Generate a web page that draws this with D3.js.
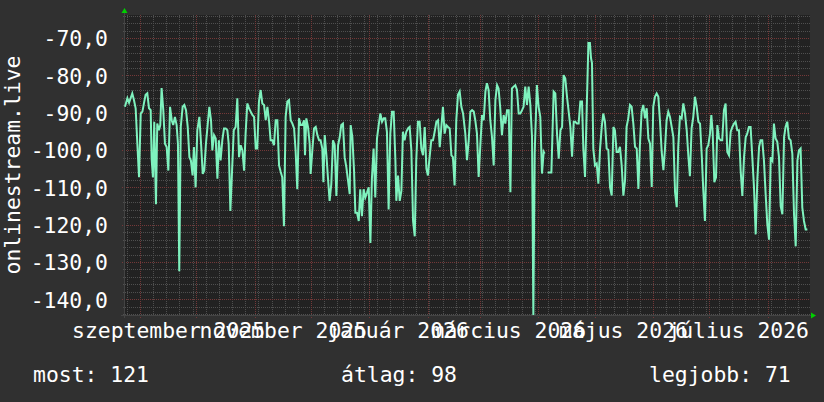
<!DOCTYPE html>
<html><head><meta charset="utf-8">
<script src="https://cdn.jsdelivr.net/npm/d3@7"></script>
<style>
html,body{margin:0;padding:0;background:#303030;}
svg{display:block;}
text{font-family:"DejaVu Sans Mono",monospace;font-size:21.4px;fill:#ffffff;}
</style></head><body>
<svg id="chart" width="824" height="402"></svg>
<script>
// ---- data ----
const seriesName = "onlinestream.live";
const startDate = new Date(2025, 7, 23, 12);
const endDate = new Date(2026, 7, 23, 12);
// days since startDate
const days = [0.5,1.8,2.7,3.5,4.4,5.3,6.2,7.1,8.0,8.9,9.8,10.6,11.5,12.4,13.3,14.2,14.7,15.4,16.1,17.0,17.7,18.6,19.3,20.0,20.9,21.8,22.7,23.6,24.5,25.4,26.2,27.1,28.0,28.7,29.4,30.2,31.2,32.1,33.0,33.9,34.8,35.6,36.5,37.2,38.1,39.0,40.1,41.0,41.9,42.7,43.6,44.5,45.4,46.3,47.0,47.9,48.8,49.7,50.5,51.4,52.3,53.2,54.1,55.0,55.7,56.6,57.5,58.4,
59.4,60.3,61.2,62.1,63.0,63.9,64.7,65.6,66.5,67.4,68.3,69.2,70.1,70.9,71.8,72.7,73.6,74.5,75.4,76.3,77.2,78.0,78.9,79.8,80.7,81.6,82.5,83.4,84.2,85.1,86.0,86.9,87.8,88.7,89.6,90.5,91.3,92.2,93.1,94.0,94.9,95.8,96.3,97.0,97.9,98.8,99.3,100.2,101.1,102.0,102.9,103.8,104.6,105.5,106.1,106.8,107.7,108.5,109.4,110.3,111.2,112.1,113.0,113.9,114.8,115.6,116.5,117.4,118.3,119.2,120.1,
120.6,121.5,122.4,123.1,124.0,124.9,125.7,126.6,127.5,128.4,129.3,130.2,131.1,131.9,132.8,133.7,134.6,135.5,136.4,137.3,138.2,139.0,139.9,140.8,141.7,142.6,143.5,144.4,144.9,145.8,146.7,147.6,148.4,149.3,150.2,151.1,152.0,152.9,153.8,154.7,155.5,156.4,157.3,158.2,159.1,160.0,160.9,161.7,162.6,163.5,164.4,165.3,166.2,167.1,168.0,168.8,169.7,170.6,171.5,172.4,173.3,174.2,175.0,175.9,176.8,177.7,178.6,179.5,180.4,
181.6,182.5,183.4,184.3,185.2,186.1,186.9,187.8,188.7,189.6,190.5,191.4,192.3,193.1,194.0,194.9,195.8,196.7,197.6,198.5,199.3,200.2,201.1,202.0,202.9,203.8,204.7,205.6,206.4,207.3,208.2,209.1,210.0,210.9,211.8,212.6,213.5,214.4,215.3,216.2,217.1,217.8,218.5,219.7,220.6,221.5,222.4,223.3,223.8,224.6,225.4,227.4,228.6,229.5,230.4,231.3,232.2,233.1,233.9,234.8,235.7,236.6,237.5,238.4,239.3,240.1,241.0,
241.9,242.8,243.7,244.4,245.3,246.2,247.1,247.9,248.5,249.0,249.7,250.6,251.5,252.4,253.3,254.2,255.0,255.9,256.8,257.7,258.6,259.5,260.4,261.2,262.1,263.0,263.9,264.8,265.7,266.6,267.4,268.3,269.2,270.1,271.0,271.9,272.8,273.7,274.5,275.4,276.3,277.2,278.1,279.0,279.9,280.8,281.6,282.5,283.4,284.3,285.2,286.1,287.0,287.8,288.7,289.6,290.5,291.4,292.3,293.2,294.1,294.9,295.8,296.7,297.6,298.5,299.4,300.3,301.1,
302.0,302.9,303.8,304.7,305.6,306.5,307.4,308.2,309.1,310.0,310.9,311.8,312.5,313.2,314.1,315.0,315.7,316.6,317.5,318.3,319.2,320.1,321.0,321.9,322.8,323.7,324.6,325.4,326.3,327.2,328.1,329.0,329.9,330.8,331.6,332.5,333.4,334.3,335.2,336.1,337.0,337.9,338.7,339.6,340.5,341.4,342.3,343.2,344.1,345.0,345.8,346.7,347.6,348.5,349.4,350.3,351.2,352.0,352.9,353.8,354.7,355.6,356.5,357.4,358.3,359.1,360.0,360.9,361.8,362.7,363.6];
const values = [-88.4,-86.1,-87.3,-86.1,-84.8,-86.6,-88.8,-98.3,-107.3,-90.2,-89.7,-87.5,-85.2,-84.8,-88.8,-89.3,-102.3,-107.3,-92.4,-114.5,-92.9,-94.7,-93.3,-83.4,-89.3,-98.3,-99.2,-105.5,-88.4,-92,-93.3,-91.1,-93.3,-98.3,-132.5,-93.8,-88.4,-87.9,-89.3,-93.8,-101.9,-102.8,-106.8,-99.2,-110,-94.7,-91.1,-98.3,-106.4,-105.5,-98.3,-93.3,-88.4,-92,-100.1,-96,-96.9,-107.7,-97.4,-102.8,-97.4,-94.2,-94.2,-94.7,-98.3,-116.3,-105.5,-94.7,
-93.8,-86.1,-101.9,-98.7,-100.1,-105.5,-95.6,-87.5,-88.8,-89.7,-90.6,-91.1,-99.6,-99.6,-87,-83.9,-87.5,-87.9,-92,-88.4,-92.4,-97.4,-97.4,-98.7,-92,-92,-104.1,-105.9,-107.3,-120.4,-91.1,-87,-86.6,-92,-92.9,-94.2,-100.1,-110.5,-91.5,-93.3,-93.3,-92,-101.4,-91.5,-93.8,-98.3,-106.4,-100.1,-94.2,-93.8,-96,-97.4,-97.4,-99.6,-108.6,-96,-101.4,-107.3,-113.6,-109.1,-97.4,-98.7,-112.3,-98.7,-96.5,-93.3,-92.9,-101.9,-104.6,-108.2,-111.8,
-93.3,-96.5,-105.5,-116.8,-116.8,-119,-110.5,-117.7,-110.5,-112.7,-111.4,-110,-124.9,-107.7,-99.6,-112.7,-96.9,-93.3,-90.2,-92.4,-91.5,-91.5,-95.1,-115.9,-95.6,-89.7,-89.7,-102.8,-113.6,-106.8,-113.6,-110.9,-95.1,-97.4,-95.1,-94.2,-93.8,-100.1,-119,-123.1,-102.8,-92.4,-92.4,-99.6,-101.4,-93.8,-105,-106.8,-101.9,-97.4,-97.4,-95.1,-92.4,-92,-99.2,-94.2,-88.4,-95.6,-93.3,-93.8,-94.2,-101.4,-101.9,-109.5,-92,-85.2,-84.3,-88.4,-90.2,
-95.6,-102.7,-97.4,-89.7,-89.3,-89.7,-92,-95.6,-107.2,-98.7,-90.6,-92,-84.3,-82.1,-83.9,-92,-96.5,-104.1,-86.6,-82.6,-83.5,-88.8,-96,-90.6,-92.9,-89.3,-89.3,-111.3,-83.5,-83,-82.6,-83.9,-90.2,-90.2,-89.3,-88.4,-83,-87.9,-83,-87.9,-96.5,-144.2,-101,-82.6,-88.4,-91.1,-106.3,-100.5,-101,null,-106,-106,-84.3,-84.8,-95.6,-102.3,-94.7,-93.8,-79.9,-80.8,-85.7,-89.7,-93.8,-101.8,-92.4,-92.4,-92.9,
-92.9,-87,-87,-99.6,-107.2,-88.8,-71.3,-71.3,-75.4,-76.7,-99.6,-104.1,-103.6,-109,-99.6,-93.8,-90.2,-92.4,-99.6,-100,-109.9,-112.2,-93.8,-94.7,-100.5,-100.5,-99.1,-104.1,-112.2,-108.1,-93.8,-91.5,-87.9,-88.4,-92.9,-99.1,-99.6,-110.4,-98.7,-89.7,-87.9,-91.5,-88.8,-96.9,-98.3,-109.9,-88.4,-85.7,-84.8,-85.7,-92.4,-100.5,-105.4,-100,-92,-89.7,-91.1,-93.8,-96.5,-111.3,-115.3,-99.1,-91.1,-91.5,-87.5,-90.2,-94.7,-101.8,-107,
-94.2,-91.1,-85.7,-88.4,-92.4,-92.9,-101.4,-110.5,-119,-99.6,-98.7,-95.6,-90.6,-95.1,-108.6,-107.3,-93.3,-96.9,-97.4,-97.4,-89.3,-87.5,-100.5,-101.4,-95.1,-93.8,-92.9,-92.4,-94.7,-94.7,-105.5,-112.3,-101.9,-96.5,-95.6,-93.8,-93.8,-101.9,-110,-122.6,-107.7,-99.2,-97.4,-97.4,-102.8,-111.8,-119.9,-124,-101.9,-102.8,-92.9,-96.9,-97.8,-101.9,-115,-117.2,-96.5,-93.8,-92.4,-96.9,-97.4,-101,-117.2,-125.8,-102.8,-100.1,-99.6,-115.4,-119,-121.3,-121.3];
const yDomain = [-144.2, -63.8];
const yTicks = [-140, -130, -120, -110, -100, -90, -80, -70];
const xLabelMonths = [new Date(2025,8,1), new Date(2025,10,1), new Date(2026,0,1), new Date(2026,2,1), new Date(2026,4,1), new Date(2026,6,1)];
const legendNames = ["most", "átlag", "legjobb"];
const legendValues = [121, 98, 71];

// ---- layout ----
const W = 824, H = 402;
const P = {l: 124, r: 810, t: 15, b: 315};
const lineColor = "#7ff2be";
const FONT = "21.4px";

const svg = d3.select("#chart");
svg.append("rect").attr("width", W).attr("height", H).attr("fill", "#303030");
svg.append("rect").attr("x", P.l).attr("y", P.t).attr("width", P.r - P.l).attr("height", P.b - P.t).attr("fill", "#222222");

const x = d3.scaleTime().domain([startDate, endDate]).range([P.l, P.r]);
const y = d3.scaleLinear().domain(yDomain).range([P.b, P.t]);

const huLocale = d3.timeFormatLocale({
  dateTime: "%Y. %B %-e. %X", date: "%Y.%m.%d.", time: "%H:%M:%S",
  periods: ["de.", "du."],
  days: ["vasárnap","hétfő","kedd","szerda","csütörtök","péntek","szombat"],
  shortDays: ["V","H","K","Sze","Cs","P","Szo"],
  months: ["január","február","március","április","május","június","július","augusztus","szeptember","október","november","december"],
  shortMonths: ["jan.","febr.","márc.","ápr.","máj.","jún.","júl.","aug.","szept.","okt.","nov.","dec."]
});
const numLocale = d3.formatLocale({decimal: ",", thousands: " ", grouping: [3], currency: ["", ""], minus: "-"});
const fmtY = numLocale.format(".1f");

// grid
const g = svg.append("g");
const minorY = d3.range(-144, -63, 2).filter(v => v % 10 !== 0);
g.selectAll(".hmin").data(minorY).join("line")
  .attr("x1", P.l - 1).attr("x2", P.r).attr("y1", d => Math.round(y(d)) + 0.5).attr("y2", d => Math.round(y(d)) + 0.5)
  .attr("stroke", "#4f4f4f").attr("stroke-dasharray", "1,1");
const weeks = d3.timeMonday.range(startDate, endDate);
g.selectAll(".vmin").data(weeks).join("line")
  .attr("y1", P.t).attr("y2", P.b + 2).attr("x1", d => Math.round(x(d)) + 0.5).attr("x2", d => Math.round(x(d)) + 0.5)
  .attr("stroke", "#4f4f4f").attr("stroke-dasharray", "1,1");
g.selectAll(".hmaj").data(yTicks).join("line")
  .attr("x1", P.l - 2).attr("x2", P.r).attr("y1", d => Math.round(y(d)) + 0.5).attr("y2", d => Math.round(y(d)) + 0.5)
  .attr("stroke", "#743838").attr("stroke-dasharray", "1,1");
const months = d3.timeMonth.range(startDate, endDate);
g.selectAll(".vmaj").data(months).join("line")
  .attr("y1", P.t).attr("y2", P.b + 3).attr("x1", d => Math.round(x(d)) + 0.5).attr("x2", d => Math.round(x(d)) + 0.5)
  .attr("stroke", "#743838").attr("stroke-dasharray", "1,1");

// axes lines
svg.append("line").attr("x1", P.l - 3).attr("x2", P.r + 2).attr("y1", P.b + 0.5).attr("y2", P.b + 0.5).attr("stroke", "#444");
svg.append("line").attr("x1", P.l + 0.5).attr("x2", P.l + 0.5).attr("y1", P.b + 3).attr("y2", P.t - 2).attr("stroke", "#444");
// arrows
svg.append("path").attr("d", `M${P.l - 2.5},${P.t - 2}L${P.l + 3.5},${P.t - 2}L${P.l + 0.5},${P.t - 7}Z`).attr("fill", "#00d000");
svg.append("path").attr("d", `M${P.r + 1},${P.b - 2.5}L${P.r + 1},${P.b + 3.5}L${P.r + 6},${P.b + 0.5}Z`).attr("fill", "#00d000");

// data line
const data = days.map((d, i) => ({date: new Date(startDate.getTime() + d * 86400000), v: values[i]}));
svg.append("clipPath").attr("id", "clip").append("rect").attr("x", P.l).attr("y", P.t).attr("width", P.r - P.l).attr("height", P.b - P.t);
const line = d3.line().defined(d => d.v !== null).x(d => x(d.date)).y(d => y(d.v));
svg.append("path").datum(data).attr("d", line).attr("fill", "none")
  .attr("stroke", lineColor).attr("stroke-width", 2).attr("stroke-linejoin", "miter").attr("clip-path", "url(#clip)");

// y axis labels
const yAxis = svg.append("g").attr("transform", `translate(${P.l},0)`)
  .call(d3.axisLeft(y).tickValues(yTicks).tickFormat(fmtY).tickSize(0).tickPadding(16));
yAxis.select(".domain").remove();
yAxis.selectAll("text").attr("dy", "0.36em").style("font-family", "DejaVu Sans Mono").style("font-size", FONT).attr("fill", "#fff");

// x axis labels (centred mid-month)
const labelDates = xLabelMonths.map(m => d3.timeDay.offset(m, 15));
const xAxis = svg.append("g").attr("transform", `translate(0,${P.b})`)
  .call(d3.axisBottom(x).tickValues(labelDates).tickFormat(huLocale.format("%B %Y")).tickSize(0).tickPadding(8));
xAxis.select(".domain").remove();
xAxis.selectAll("text").style("font-family", "DejaVu Sans Mono").style("font-size", FONT).attr("fill", "#fff");

// y title
svg.append("text").attr("transform", "translate(20,165) rotate(-90)").attr("text-anchor", "middle").text(seriesName);

// legend
const legendX = [33, 341, 649];
svg.selectAll(".leg").data(legendNames).join("text")
  .attr("x", (d, i) => legendX[i]).attr("y", 382)
  .text((d, i) => `${d}: ${legendValues[i]}`);
</script>
</body></html>
